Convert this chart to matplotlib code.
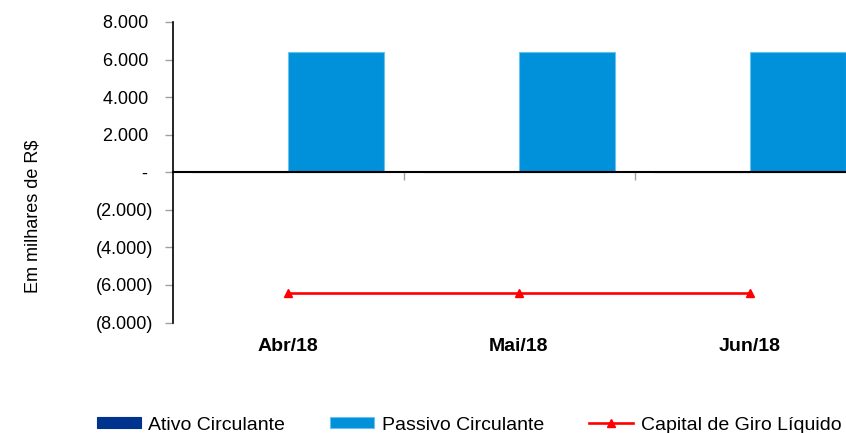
import matplotlib
matplotlib.use("Agg")
import matplotlib.pyplot as plt
import numpy as np

plt.rcParams['font.family'] = ['Liberation Sans', 'DejaVu Sans']

categories = ["Abr/18", "Mai/18", "Jun/18"]
ativo = [15, 15, 15]
passivo = [6400, 6400, 6400]
capital = [-6430, -6430, -6430]
yticks = [-8000, -6000, -4000, -2000, 0, 2000, 4000, 6000, 8000]
ytick_labels = ["(8.000)", "(6.000)", "(4.000)", "(2.000)", "- ", "2.000 ", "4.000 ", "6.000 ", "8.000 "]

W, H = 846, 433
fig = plt.figure(figsize=(W / 100, H / 100), dpi=100)
ax = fig.add_axes([172.5 / W, (H - 322.5) / H, (W - 172.5) / W, 300.5 / H])

x = np.arange(len(categories))
bw = 0.414
c_ativo = "#00338D"
c_passivo = "#0091DA"
h1 = ax.bar(x - bw / 2, ativo, bw, color=c_ativo, edgecolor=c_ativo, linewidth=0.8, label="Ativo Circulante", zorder=2)
h2 = ax.bar(x + bw / 2, passivo, bw, color=c_passivo, edgecolor="#6CC0EC", linewidth=0.8, label="Passivo Circulante", zorder=2)
h3, = ax.plot(x, capital, color="#FF0000", linewidth=1.9, marker="^", markersize=6,
              label="Capital de Giro Líquido", zorder=3)

ax.set_xlim(-0.5, -0.5 + (W - 172.5) / 231.0)
ax.set_ylim(-8000, 8000)

ax.set_yticks(yticks)
ax.set_yticklabels(ytick_labels, fontsize=13)
ax.tick_params(axis='y', direction='out', length=6, width=1, color="#A0A0A0", pad=8)

for s in ["top", "right"]:
    ax.spines[s].set_visible(False)
ax.spines["left"].set_color("black")
ax.spines["left"].set_linewidth(1.2)
ax.spines["bottom"].set_position(('data', 0))
ax.spines["bottom"].set_color("black")
ax.spines["bottom"].set_linewidth(1.5)
ax.spines["bottom"].set_zorder(4)

ax.set_xticks([0.5, 1.5])
ax.set_xticklabels(["", ""])
ax.tick_params(axis='x', which='major', direction='out', length=6, width=1, color="#A0A0A0")
ax.set_xticks(x, minor=True)
ax.set_xticklabels(categories, minor=True, fontsize=14, fontweight='bold')
ax.tick_params(axis='x', which='minor', length=0, pad=119)

ax.set_ylabel("Em milhares de R$", fontsize=13, labelpad=0)
ax.yaxis.set_label_coords(-(172.5 - 33) / (W - 172.5), 0.5 - (216 - 172) / 300.5)
ax.yaxis.label.set_verticalalignment('center')

fig.legend([h1, h2, h3], ["Ativo Circulante", "Passivo Circulante", "Capital de Giro Líquido"],
           loc='center', bbox_to_anchor=((93 + 845) / 2 / W, (H - 425) / H),
           ncol=3, frameon=False, fontsize=14, handlelength=2.27, handleheight=0.45,
           handletextpad=0.4, columnspacing=2.3, borderaxespad=0, borderpad=0)

fig.savefig("out.png", dpi=100)
